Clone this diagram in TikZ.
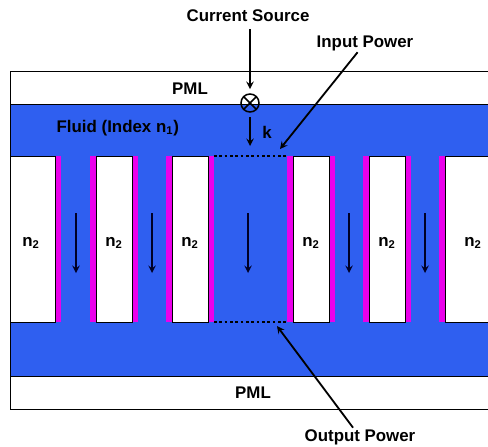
\documentclass[tikz,border=0pt]{standalone}
\usepackage{fontspec}
\setmainfont{Liberation Sans}
\usepackage{tikz}
\usetikzlibrary{arrows,positioning,calc}
\definecolor{fluidblue}{RGB}{47,95,240}
\definecolor{coatpink}{RGB}{235,0,235}

\begin{document}
\begin{tikzpicture}[x=0.025cm, y=-0.025cm,
    lbl/.style={font=\fontsize{12}{14}\selectfont\bfseries, inner sep=1pt},
    pml/.style={draw, fill=white, line width=0.6pt},
    fluid/.style={draw, fill=fluidblue, line width=0.6pt},
    rod/.style={draw, fill=white, line width=0.5pt},
    coat/.style={fill=coatpink},
    arrow/.style={->, line width=1.3pt, >=stealth},
    flow/.style={->, line width=1.3pt, >=stealth, black!85!blue},
    port/.style={line width=1.8pt, dash pattern=on 1.8pt off 2pt},
    src/.style={circle, draw, line width=1.1pt, minimum size=0.45cm, inner sep=0pt,
      path picture={\draw[line width=1.1pt] (path picture bounding box.north west) -- (path picture bounding box.south east)
        (path picture bounding box.north east) -- (path picture bounding box.south west);}}]
  \useasboundingbox (0,0) rectangle (488,447);
  % layers
  \draw[pml] (10,71) rectangle (500,104);
  \draw[fluid] (10,104) rectangle (500,376);
  \draw[pml] (10,376) rectangle (500,409);
  \node[lbl] (pmltop) at (190,89) {PML};
  \node[lbl] (pmlbot) at (253,393) {PML};
  \node[lbl, anchor=west] (fluidlbl) at (55,128) {Fluid (Index n\textsubscript{1})};
  % rods
  \fill[coat] (55,156) rectangle (61,322);
  \draw[rod] (10,156) rectangle (55,322);
  \node[lbl] (n2a) at (31,243) {n\textsubscript{2}};
  \foreach \x/\n in {90/b,166/c,287/d,363/e} {
    \fill[coat] (\x,156) rectangle ++(6,166);
    \fill[coat] (\x+42,156) rectangle ++(6,166);
    \draw[rod] (\x+6,156) rectangle ++(36,166);
    \node[lbl] (n2\n) at (\x+24,243) {n\textsubscript{2}};
  }
  \fill[coat] (439,156) rectangle (445,322);
  \draw[rod] (445,156) rectangle (500,322);
  \node[lbl] (n2f) at (473,243) {n\textsubscript{2}};
  % flow arrows
  \foreach \x in {76,152,248,349,425}
    \draw[flow] (\x,213) -- (\x,273);
  % ports
  \coordinate (pinL) at (214,156);
  \coordinate (pinR) at (287,156);
  \coordinate (poutL) at (214,322);
  \coordinate (poutR) at (287,322);
  \draw[port] (pinL) -- (pinR);
  \draw[port] (poutL) -- (poutR);
  % source
  \node[src] (cs) at (250,103) {};
  \node[lbl] (cslbl) at (248,16) {Current Source};
  \draw[arrow, shorten <=4pt, shorten >=3pt] (cslbl.south -| cs) -- (cs.north);
  \coordinate (kend) at (250,146);
  \draw[arrow, shorten <=3pt] (cs) -- (kend);
  \node[lbl] (k) at (267,132) {k};
  % power monitors
  \node[lbl] (inlbl) at (365,43) {Input Power};
  \coordinate (inpt) at (280,149);
  \draw[arrow] (inlbl) -- (inpt);
  \node[lbl] (outlbl) at (360,437) {Output Power};
  \coordinate (outpt) at (277,326);
  \draw[arrow] (outlbl) -- (outpt);
\end{tikzpicture}
\end{document}
